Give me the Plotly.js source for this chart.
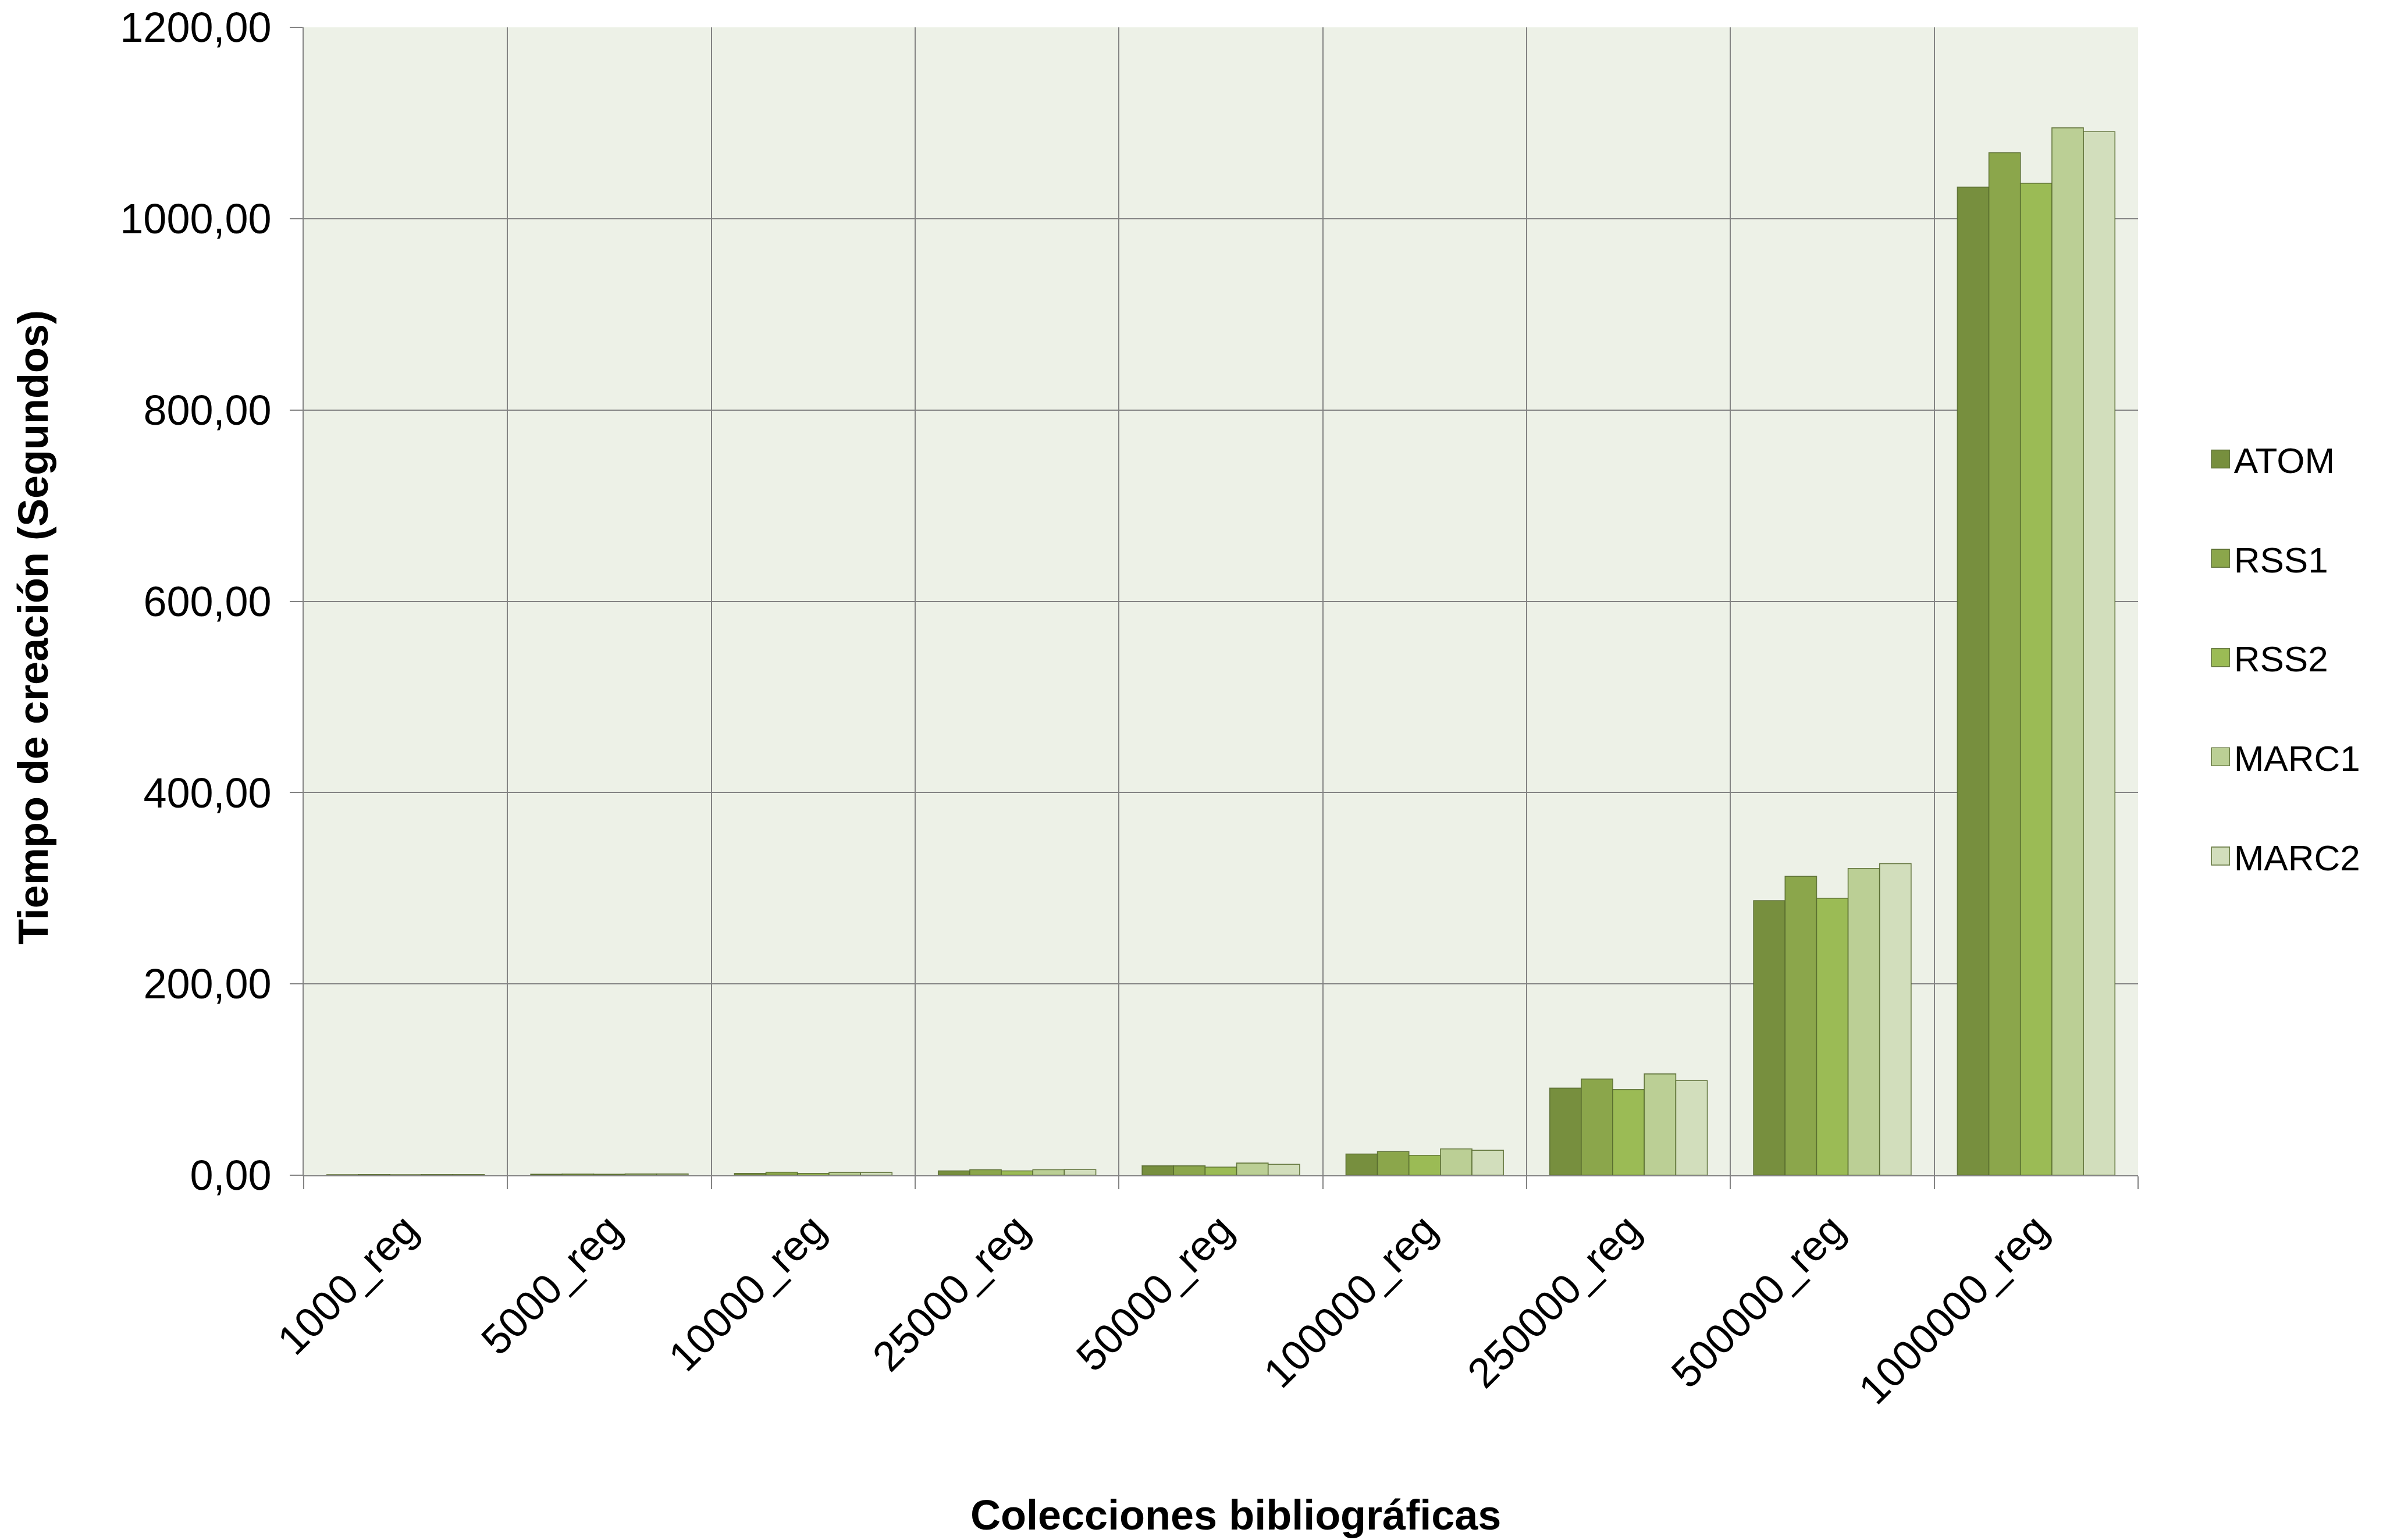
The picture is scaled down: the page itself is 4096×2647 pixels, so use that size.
<!DOCTYPE html>
<html>
<head>
<meta charset="utf-8">
<script src="https://cdn.plot.ly/plotly-3.0.1.min.js"></script>
<style>
  html, body { margin: 0; padding: 0; background: #ffffff; }
  #chart { width: 4096px; height: 2647px; }
</style>
</head>
<body>
<div id="chart"></div>
<script>
// Collections (number of bibliographic records)
const categories = ['1000_reg', '5000_reg', '10000_reg', '25000_reg', '50000_reg',
                    '100000_reg', '250000_reg', '500000_reg', '1000000_reg'];

// Creation time in seconds for each output format
const atom  = [0.6, 1.0, 1.9, 4.6, 9.8, 22.2, 91.0, 287.0, 1033.0];
const rss1  = [0.7, 1.2, 3.2, 5.8, 9.8, 24.8, 100.6, 312.5, 1069.0];
const rss2  = [0.6, 1.0, 1.9, 4.6, 8.5, 20.8, 89.6, 289.5, 1037.0];
const marc1 = [0.7, 1.3, 2.9, 5.8, 12.7, 27.5, 105.9, 320.7, 1095.0];
const marc2 = [0.7, 1.3, 2.9, 5.9, 11.4, 26.1, 99.0, 325.8, 1091.0];

const seriesNames = ['ATOM', 'RSS1', 'RSS2', 'MARC1', 'MARC2'];
const seriesValues = [atom, rss1, rss2, marc1, marc2];
const seriesColors = ['#778F3E', '#8BA64B', '#9BBB55', '#BBCF95', '#D2DEBC'];

const yTickValues = [0, 200, 400, 600, 800, 1000, 1200];

const FONT = '"Liberation Sans", Arial, sans-serif';
const GRID = '#838383';

const traces = seriesNames.map((name, i) => ({
  type: 'bar',
  name: name,
  x: categories,
  y: seriesValues[i],
  legendgroup: 'g' + i,
  marker: {
    color: seriesColors[i],
    line: { color: 'rgba(85,105,45,0.85)', width: 1.6 }
  },
  hoverinfo: 'x+y+name'
}));

const layout = {
  width: 4096,
  height: 2647,
  paper_bgcolor: '#ffffff',
  plot_bgcolor: '#EDF1E7',
  separators: ',.',
  barmode: 'group',
  bargap: 0.227,
  bargroupgap: 0,
  margin: { l: 522, r: 421, t: 47, b: 627, pad: 0 },
  font: { family: FONT, color: '#000000', size: 68 },
  xaxis: {
    type: 'category',
    tickson: 'boundaries',
    ticks: 'outside',
    ticklen: 22,
    tickwidth: 2,
    tickcolor: GRID,
    tickangle: -45,
    ticklabelstandoff: 20,
    tickfont: { family: FONT, size: 72, color: '#000000' },
    showgrid: true,
    gridcolor: GRID,
    gridwidth: 2,
    showline: true,
    linecolor: GRID,
    linewidth: 2,
    automargin: false
  },
  yaxis: {
    range: [0, 1200],
    tickvals: yTickValues,
    tickformat: '.2f',
    ticks: 'outside',
    ticklen: 22,
    tickwidth: 2,
    tickcolor: GRID,
    ticklabelstandoff: 17,
    tickfont: { family: FONT, size: 72, color: '#000000' },
    showgrid: true,
    gridcolor: GRID,
    gridwidth: 2,
    zeroline: false,
    showline: true,
    linecolor: GRID,
    linewidth: 2,
    automargin: false
  },
  showlegend: true,
  legend: {
    xref: 'container',
    yref: 'container',
    x: 0.9262,
    y: 0.7196,
    xanchor: 'left',
    yanchor: 'top',
    bgcolor: 'rgba(0,0,0,0)',
    font: { family: FONT, size: 62, color: '#000000' },
    tracegroupgap: 87,
    itemwidth: 36,
    traceorder: 'grouped'
  },
  annotations: [
    {
      text: '<b>Colecciones bibliográficas</b>',
      xref: 'paper', yref: 'paper',
      x: 0.508, y: -0.296,
      xanchor: 'center', yanchor: 'middle',
      showarrow: false,
      font: { family: FONT, size: 72, color: '#000000' }
    },
    {
      text: '<b>Tiempo de creación (Segundos)</b>',
      xref: 'paper', yref: 'paper',
      x: -0.1475, y: 0.4775,
      xanchor: 'center', yanchor: 'middle',
      textangle: -90,
      showarrow: false,
      font: { family: FONT, size: 72, color: '#000000' }
    }
  ]
};

Plotly.newPlot('chart', traces, layout, { displayModeBar: false, staticPlot: true }).then(gd => {
  // Enlarge the square legend swatches to suit the large legend text
  gd.querySelectorAll('.legend .legendpoints path').forEach(p => {
    p.setAttribute('d', 'M15.5,15.5H-15.5V-15.5H15.5Z');
  });
});
</script>
</body>
</html>
